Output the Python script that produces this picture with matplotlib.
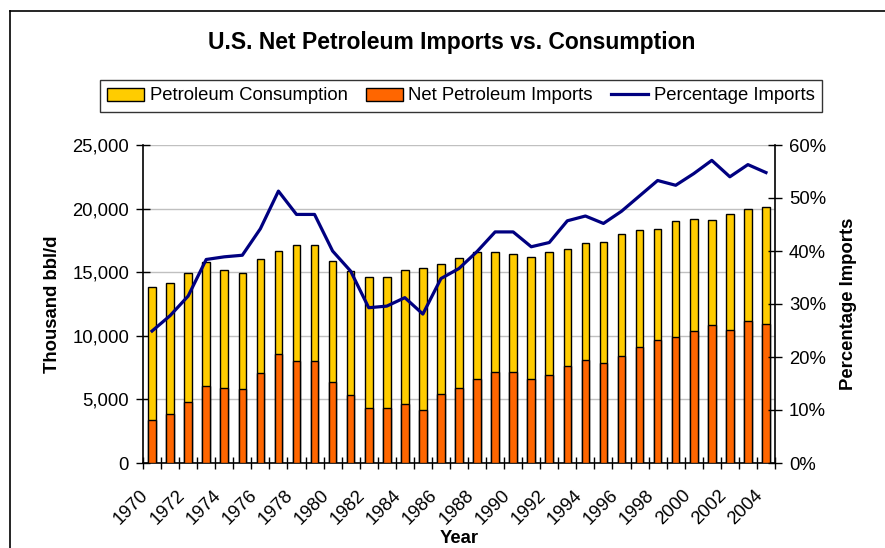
import matplotlib
matplotlib.use('Agg')
from matplotlib import pyplot as plt
from matplotlib.lines import Line2D
from matplotlib.ticker import FuncFormatter
import numpy as np

plt.rcParams['font.family'] = ['Liberation Sans', 'DejaVu Sans']

years = list(range(1970, 2005))
consumption = [13825, 14166, 14953, 15766, 15189, 14953, 16002, 16684, 17130, 17130,
               15871, 15058, 14638, 14638, 15189, 15320, 15661, 16107, 16553, 16553,
               16448, 16212, 16553, 16815, 17261, 17366, 17969, 18284, 18389, 18993,
               19203, 19098, 19544, 19990, 20121]
net_imports = [3410, 3856, 4774, 6034, 5929, 5824, 7083, 8552, 8001, 8001,
               6375, 5352, 4328, 4328, 4669, 4197, 5456, 5929, 6611, 7188,
               7188, 6611, 6952, 7634, 8106, 7870, 8447, 9129, 9706, 9942,
               10388, 10834, 10493, 11175, 10965]
pct_imports = [24.9, 27.8, 31.5, 38.4, 38.9, 39.2, 44.2, 51.3, 46.9, 46.9,
               40.0, 36.2, 29.3, 29.6, 31.2, 28.1, 34.8, 36.7, 39.9, 43.6,
               43.6, 40.8, 41.6, 45.7, 46.6, 45.2, 47.5, 50.4, 53.3, 52.4,
               54.6, 57.1, 54.0, 56.3, 54.8]

W, H = 885, 548
fs = 13.3
fig = plt.figure(figsize=(W / 100, H / 100), dpi=100)

# chart area border (left and top only visible)
fig.add_artist(Line2D([10 / W, 10 / W], [0, 1 - 11 / H], color='black', lw=1.2))
fig.add_artist(Line2D([10 / W, 1], [1 - 11 / H, 1 - 11 / H], color='black', lw=1.2))

ax = fig.add_axes([143 / W, 85 / H, 632 / W, 318 / H])
x = np.arange(len(years))

ax.bar(x, consumption, width=0.42, color='#FFCC00', edgecolor='black', linewidth=1.0,
       label='Petroleum Consumption', zorder=2)
ax.bar(x, net_imports, width=0.42, color='#FF6600', edgecolor='black', linewidth=1.0,
       label='Net Petroleum Imports', zorder=3)

ax.set_xlim(-0.5, len(years) - 0.5)
ax.set_ylim(0, 25000)
ax.set_yticks(range(0, 25001, 5000))
ax.yaxis.set_major_formatter(FuncFormatter(lambda v, p: '{:,}'.format(int(v))))
ax.grid(axis='y', color='#C0C0C0', lw=1, zorder=0)
ax.set_axisbelow(True)

ax.set_xticks(x[::2])
ax.set_xticklabels([str(y) for y in years[::2]], rotation=45, ha='right', va='bottom',
                   rotation_mode='anchor', fontsize=fs)
ax.set_xticks(np.arange(-0.5, len(years), 1), minor=True)
ax.tick_params(axis='x', which='major', length=0, pad=26)
ax.tick_params(axis='x', which='minor', direction='inout', length=9, width=1)
ax.tick_params(axis='y', direction='inout', length=10, width=1, labelsize=fs, pad=5)

for s in ['top', 'right']:
    ax.spines[s].set_visible(False)
ax.spines['left'].set_linewidth(1.2)
ax.spines['bottom'].set_linewidth(1.2)

ax.set_ylabel('Thousand bbl/d', fontsize=fs, fontweight='bold', labelpad=8)
ax.set_xlabel('Year', fontsize=fs, fontweight='bold', labelpad=1)

ax2 = ax.twinx()
ax2.plot(x, pct_imports, color='#000080', lw=2.3, label='Percentage Imports', zorder=4)
ax2.set_ylim(0, 60)
ax2.set_yticks(range(0, 61, 10))
ax2.yaxis.set_major_formatter(FuncFormatter(lambda v, p: '{:d}%'.format(int(v))))
ax2.tick_params(axis='y', direction='inout', length=10, width=1, labelsize=fs, pad=5)
for s in ['top', 'left', 'bottom']:
    ax2.spines[s].set_visible(False)
ax2.spines['right'].set_linewidth(1.2)
ax2.set_ylabel('Percentage Imports', fontsize=fs, fontweight='bold', labelpad=10)

fig.text(452 / W, 1 - 43 / H, 'U.S. Net Petroleum Imports vs. Consumption',
         ha='center', va='center', fontsize=16.5, fontweight='bold')

h1, l1 = ax.get_legend_handles_labels()
h2, l2 = ax2.get_legend_handles_labels()
leg = fig.legend(h1 + h2, l1 + l2, ncol=3, loc='center', bbox_to_anchor=(461 / W, 1 - 96 / H),
                 frameon=True, fancybox=False, edgecolor='black', fontsize=fs,
                 handlelength=2.0, handletextpad=0.3, columnspacing=1.0, borderpad=0.4)
leg.get_frame().set_linewidth(1.0)

fig.savefig('out.png', dpi=100)
